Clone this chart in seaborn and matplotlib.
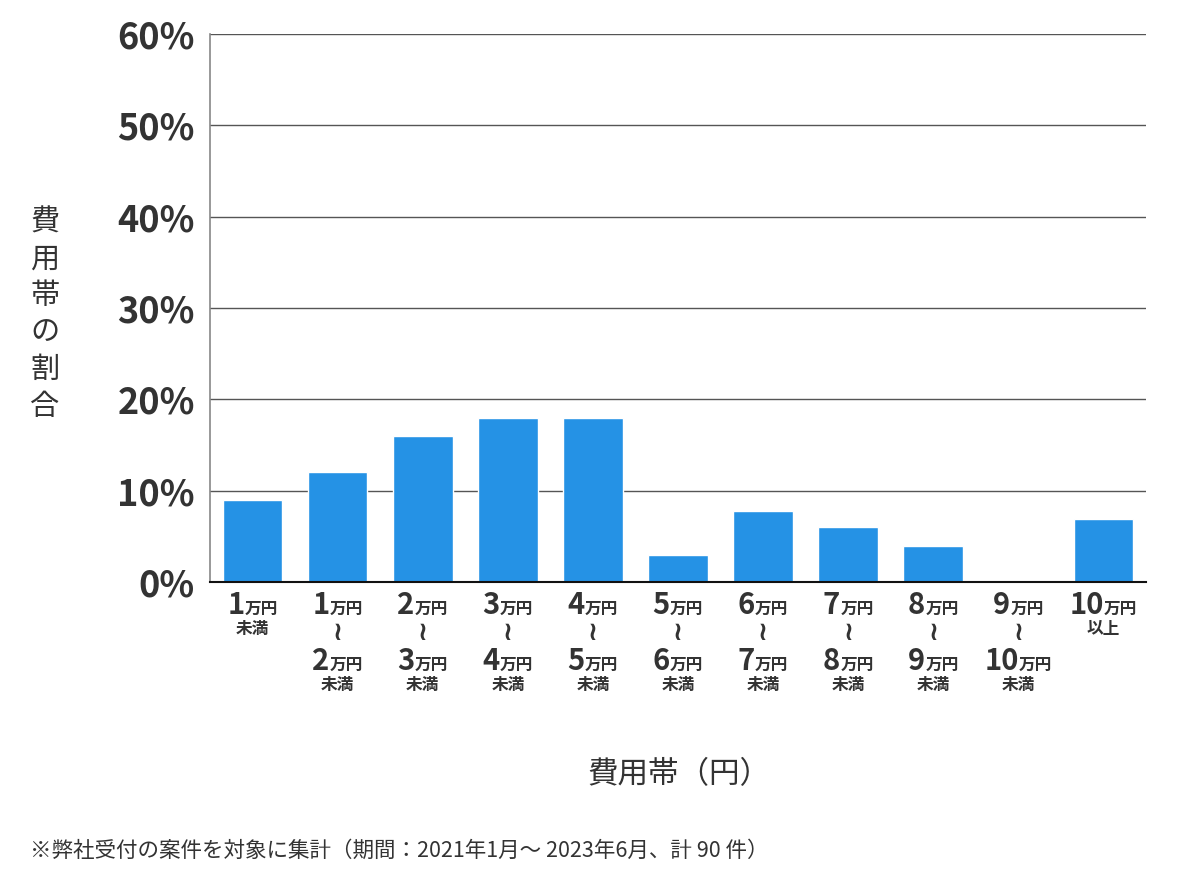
import matplotlib
matplotlib.use("Agg")
import matplotlib.pyplot as plt
import matplotlib.transforms as mtransforms
from matplotlib.offsetbox import TextArea, HPacker, VPacker, AnnotationBbox
import seaborn as sns
import pandas as pd

categories = ["1万円未満", "1〜2万円未満", "2〜3万円未満", "3〜4万円未満", "4〜5万円未満",
              "5〜6万円未満", "6〜7万円未満", "7〜8万円未満", "8〜9万円未満", "9〜10万円未満", "10万円以上"]
values = [9.0, 12.0, 16.0, 18.0, 18.0, 3.0, 7.8, 6.0, 4.0, 0.0, 6.9]
range_from = ["1", "1", "2", "3", "4", "5", "6", "7", "8", "9", "10"]
range_to = [None, "2", "3", "4", "5", "6", "7", "8", "9", "10", None]
suffixes = ["未満", "未満", "未満", "未満", "未満", "未満", "未満", "未満", "未満", "未満", "以上"]
unit = "万円"
yticks = [0, 10, 20, 30, 40, 50, 60]
ylabel = "費用帯の割合"
xlabel = "費用帯（円）"
footnote = "※弊社受付の案件を対象に集計（期間：2021年1月～ 2023年6月、計 90 件）"

sns.set_theme(style="white")
FAM = ["Noto Sans CJK JP", "DejaVu Sans"]
plt.rcParams["font.family"] = FAM
TXT = "#333333"
BAR = "#2592e5"

fig = plt.figure(figsize=(12, 8.74), dpi=100)
ax = fig.add_axes([0.175, 0.334, 0.78, 0.627])

df = pd.DataFrame({"cat": categories, "val": values})
sns.barplot(data=df, x="cat", y="val", color=BAR, width=0.7, saturation=1, ax=ax)

ax.set_ylim(0, 60)
ax.set_xlim(-0.5, len(categories) - 0.5)
ax.set_yticks(yticks)
ax.set_yticklabels([f"{v}%" for v in yticks], fontsize=26, fontweight="bold", color=TXT)
ax.tick_params(axis="y", length=0, pad=11)
ax.tick_params(axis="x", length=0)
ax.set_xticks(range(len(categories)))
ax.set_xticklabels([""] * len(categories))
ax.set_xlabel("")
ax.set_ylabel("")
ax.yaxis.grid(True, color="#555555", linewidth=1)
ax.set_axisbelow(True)
for s in ["top", "right"]:
    ax.spines[s].set_visible(False)
ax.spines["left"].set_color("#888888")
ax.spines["left"].set_linewidth(1.2)
ax.spines["bottom"].set_color("#111111")
ax.spines["bottom"].set_linewidth(1.5)

trans = mtransforms.blended_transform_factory(ax.transData, ax.transAxes)
big = dict(fontsize=21, fontweight="bold", color=TXT, family=FAM)
small = dict(fontsize=12, fontweight="bold", color=TXT, family=FAM)
wave = dict(fontsize=19, fontweight="bold", color=TXT, family=["DejaVu Sans"])


def num_line(n):
    return HPacker(children=[TextArea(n, textprops=big), TextArea(unit, textprops=small)],
                   align="baseline", pad=0, sep=0)


for i, (a, b, suf) in enumerate(zip(range_from, range_to, suffixes)):
    lines = [num_line(a)]
    if b is not None:
        lines.append(TextArea("≀", textprops=wave))
        lines.append(num_line(b))
    lines.append(TextArea(suf, textprops=small))
    box = VPacker(children=lines, align="center", pad=0, sep=0)
    ab = AnnotationBbox(box, (i, -0.015), xycoords=trans, box_alignment=(0.5, 1),
                        frameon=False, pad=0, annotation_clip=False)
    ax.add_artist(ab)

fig.text(0.0375, 0.64, "\n".join(ylabel), fontsize=21, color=TXT, ha="center", va="center",
         linespacing=1.3)
fig.text(0.566, 1 - 775 / 874, xlabel, fontsize=22, color=TXT, ha="center", va="center")
fig.text(30 / 1200, 1 - 851 / 874, footnote, fontsize=15.5, color=TXT, ha="left", va="center")

fig.savefig("out.png", dpi=100)
